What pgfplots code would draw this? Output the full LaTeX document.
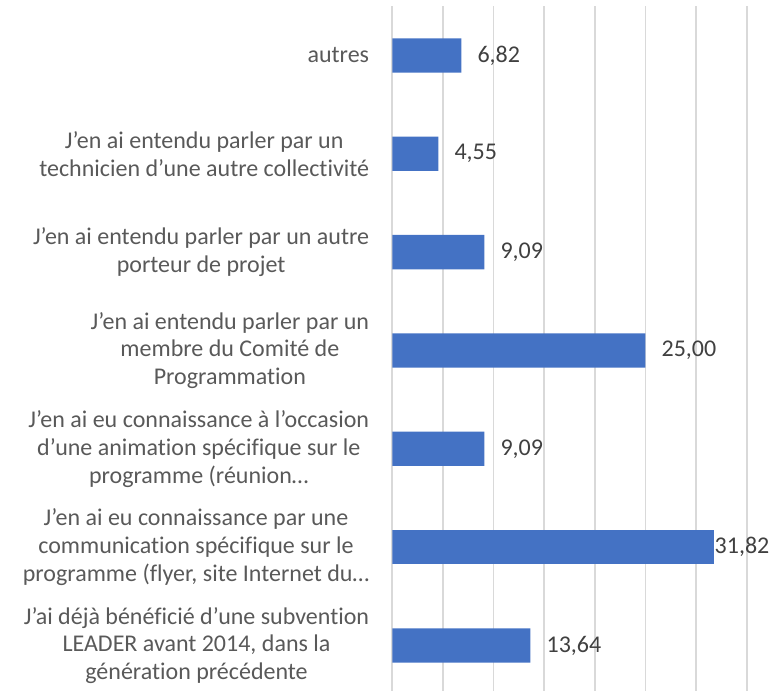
\documentclass[border=0pt]{standalone}
\usepackage{pgfplots}
\pgfplotsset{compat=1.18}
\usepackage{fontspec}
\setmainfont[Ligatures=NoCommon]{Carlito}
\definecolor{barblue}{HTML}{4472C4}
\definecolor{gridgray}{HTML}{D9D9D9}
\definecolor{labgray}{HTML}{595959}
\definecolor{valgray}{HTML}{404040}
\begin{document}
\fontsize{24bp}{27.8bp}\selectfont
\begin{tikzpicture}
\begin{axis}[
  name=ax,
  scale only axis,
  width=354.4bp, height=684.7bp,
  xbar, bar width=34.3bp, bar shift=0pt,
  xmin=0, xmax=35,
  ymin=-0.463, ymax=6.5,
  xtick={0,5,...,35}, xticklabels={},
  xmajorgrids,
  grid style={gridgray, line width=1.8bp},
  axis line style={draw=none},
  major tick length=0pt,
  ytick={0,1,2,3,4,5,6},
  yticklabels={
    {J’ai déjà bénéficié d’une subvention\\LEADER avant 2014, dans la\\génération précédente},
    {J’en ai eu connaissance par une\\communication spécifique sur le\\programme (flyer, site Internet du…},
    {J’en ai eu connaissance à l’occasion\\d’une animation spécifique sur le\\programme (réunion…},
    {J’en ai entendu parler par un\\membre du Comité de\\Programmation},
    {J’en ai entendu parler par un autre\\porteur de projet},
    {J’en ai entendu parler par un\\technicien d’une autre collectivité},
    {autres}
  },
  yticklabel style={align=center, inner sep=0pt, xshift=-23bp, text=labgray, font=\fontsize{24bp}{27.8bp}\selectfont},
  /pgf/number format/.cd, use comma, fixed, fixed zerofill, precision=2, assume math mode=true,
  /pgfplots/.cd,
  nodes near coords,
  every node near coord/.append style={anchor=west, inner sep=0pt, xshift=16bp, text=valgray, font=\fontsize{24bp}{27.8bp}\selectfont},
]
\addplot[fill=barblue, draw=none] coordinates {
  (13.64,0) (9.09,2) (25.00,3) (9.09,4) (4.55,5) (6.82,6)
};
\addplot[fill=barblue, draw=none,
  every node near coord/.append style={xshift=-16bp}] coordinates {
  (31.82,1)
};
\end{axis}
\pgfresetboundingbox
\path ([xshift=-392.3bp]ax.south west) rectangle ([xshift=378.7bp,yshift=6.3bp]ax.north west);
\end{tikzpicture}
\end{document}
